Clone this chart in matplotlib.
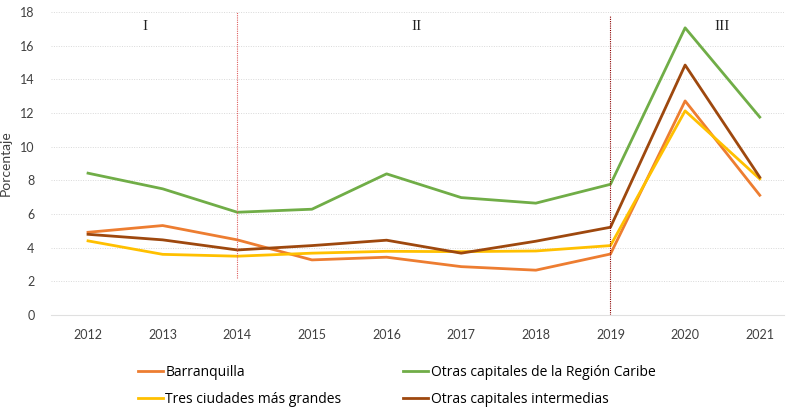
import matplotlib.pyplot as plt

years = [2012, 2013, 2014, 2015, 2016, 2017, 2018, 2019, 2020, 2021]
barranquilla = [4.91, 5.31, 4.46, 3.27, 3.43, 2.87, 2.66, 3.62, 12.71, 7.11]
caribe = [8.42, 7.49, 6.10, 6.28, 8.38, 6.97, 6.64, 7.76, 17.05, 11.75]
tres_ciudades = [4.40, 3.60, 3.49, 3.67, 3.78, 3.76, 3.80, 4.12, 12.12, 8.08]
intermedias = [4.79, 4.46, 3.86, 4.12, 4.44, 3.67, 4.38, 5.21, 14.84, 8.18]

periods = ["I", "II", "III"]
period_x = [2012.76, 2016.4, 2020.5]
breaks = [2014, 2019]

plt.rcParams["font.family"] = ["Lato", "DejaVu Sans"]

fig = plt.figure(figsize=(7.86, 4.08), dpi=100)
ax = fig.add_axes([0.065, 0.228, 0.932, 0.743])

l1, = ax.plot(years, barranquilla, color="#ED7D31", lw=2, label="Barranquilla")
l2, = ax.plot(years, caribe, color="#70AD47", lw=2, label="Otras capitales de la Región Caribe")
l3, = ax.plot(years, tres_ciudades, color="#FFC000", lw=2, label="Tres ciudades más grandes")
l4, = ax.plot(years, intermedias, color="#9E480E", lw=2, label="Otras capitales intermedias")

# period separators
ax.vlines(breaks[0], 2.2, 18, colors="#E06060", linestyles=(0, (1, 1)), lw=0.8)
ax.vlines(breaks[1], 0, 17.8, colors="#8B0000", linestyles=(0, (1, 1)), lw=0.8)

for label, x in zip(periods, period_x):
    ax.text(x, 17.1, label, ha="center", va="center", fontsize=11,
            family=["Liberation Serif", "DejaVu Serif"], color="#222222")

ax.set_xlim(2011.505, 2021.32)
ax.set_ylim(0, 18)
ax.set_xticks(years)
ax.set_yticks(range(0, 19, 2))
ax.tick_params(length=0, labelsize=9, colors="#404040", pad=10)
ax.tick_params(axis="y", pad=12)
ax.grid(axis="y", color="#D9D9D9", linestyle=(0, (1, 1.5)), lw=0.7)
ax.set_axisbelow(True)
for side in ["top", "right", "left"]:
    ax.spines[side].set_visible(False)
ax.spines["bottom"].set_color("#E0E0E0")
ax.set_ylabel("Porcentaje", fontsize=10, color="#404040", labelpad=6)

# legend is filled column by column
handles = [l1, l3, l2, l4]
fig.legend(handles, [h.get_label() for h in handles], loc="upper left",
           bbox_to_anchor=(0.168, 0.120), ncol=2, frameon=False,
           borderaxespad=0,
           prop={"family": ["Open Sans", "DejaVu Sans"], "size": 10},
           handlelength=1.8, handletextpad=0.2, columnspacing=4.45,
           labelspacing=0.9)

fig.savefig("out.png", dpi=100)
